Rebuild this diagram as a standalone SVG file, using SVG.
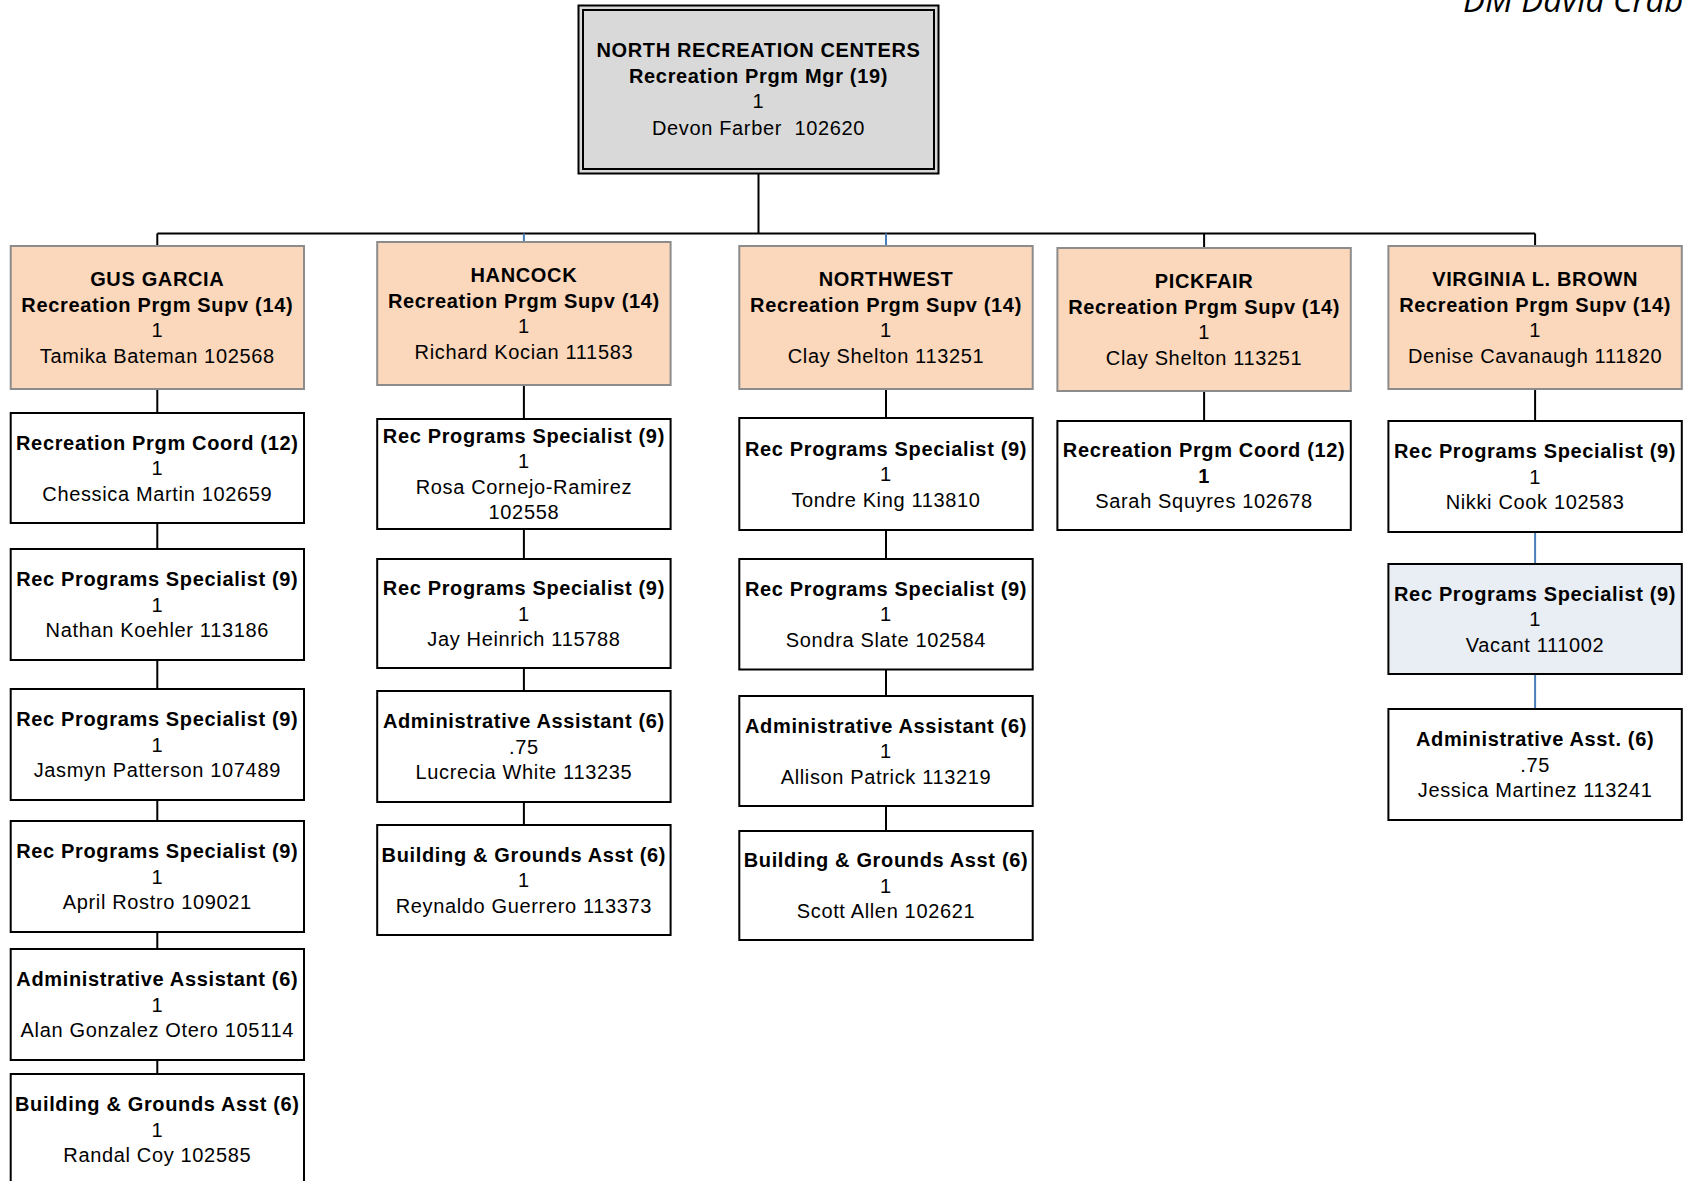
<svg xmlns="http://www.w3.org/2000/svg" width="1685" height="1181" viewBox="0 0 1685 1181">
<style>
.t { font-family: "Liberation Sans", Arial, sans-serif; font-size: 20px; letter-spacing: 0.65px; text-anchor: middle; fill: #000; white-space: pre; }
.b { font-weight: bold; }
.top { fill: #d9d9d9; stroke: #000; stroke-width: 2; }
.l1 { fill: #fbd7bb; stroke: #8c8c8c; stroke-width: 2; }
.ch { fill: #fff; stroke: #000; stroke-width: 2; }
.vac { fill: #e9edf4; stroke: #000; stroke-width: 2; }
.c { stroke: #000; stroke-width: 2; fill: none; }
.cb { stroke: #4a7ebb; stroke-width: 2; fill: none; }
.dm { font-family: "Open Sans", "Liberation Sans", sans-serif; font-style: italic; font-size: 33px; fill: #000; }
</style>
<rect width="1685" height="1181" fill="#fff"/>
<text class="dm" x="1463" y="12">DM David Crab</text>

<g id="connectors">
  <path class="c" d="M758.5 174 V233.5 M157.3 233.5 H1535.1"/>
  <path class="c" d="M157.3 233.5 V246 M1204.1 233.5 V248 M1535.1 233.5 V246"/>
  <path class="cb" d="M523.9 233.5 V242 M886 233.5 V246"/>
  <path class="c" d="M157.3 389 V413 M157.3 523 V549 M157.3 660 V689 M157.3 800 V821 M157.3 932 V949 M157.3 1060 V1074"/>
  <path class="c" d="M523.9 385 V419 M523.9 529 V559 M523.9 668 V691 M523.9 802 V825"/>
  <path class="c" d="M886 389 V418 M886 530 V559 M886 669.5 V696 M886 806 V831"/>
  <path class="c" d="M1204.1 391 V421"/>
  <path class="c" d="M1535.1 389 V421"/>
  <path class="cb" d="M1535.1 532 V564 M1535.1 674 V709"/>
</g>

<g id="north-recreation-centers">
  <rect class="top" x="578.5" y="5.5" width="360" height="168"/>
  <rect class="top" x="583" y="10" width="351" height="159"/>
  <text class="t b" x="758.5" y="57">NORTH RECREATION CENTERS</text>
  <text class="t b" x="758.5" y="83">Recreation Prgm Mgr (19)</text>
  <text class="t" x="758.5" y="108">1</text>
  <text class="t" x="758.5" y="135">Devon Farber  102620</text>
</g>

<g id="gus-garcia">
  <rect class="l1" x="10.7" y="246" width="293.3" height="143"/>
  <text class="t b" x="157.3" y="286">GUS GARCIA</text>
  <text class="t b" x="157.3" y="312">Recreation Prgm Supv (14)</text>
  <text class="t" x="157.3" y="337">1</text>
  <text class="t" x="157.3" y="363">Tamika Bateman 102568</text>
</g>
<g id="gus-coord">
  <rect class="ch" x="10.7" y="413" width="293.3" height="110"/>
  <text class="t b" x="157.3" y="449.5">Recreation Prgm Coord (12)</text>
  <text class="t" x="157.3" y="475">1</text>
  <text class="t" x="157.3" y="500.5">Chessica Martin 102659</text>
</g>
<g id="gus-spec1">
  <rect class="ch" x="10.7" y="549" width="293.3" height="111"/>
  <text class="t b" x="157.3" y="586">Rec Programs Specialist (9)</text>
  <text class="t" x="157.3" y="611.5">1</text>
  <text class="t" x="157.3" y="637">Nathan Koehler 113186</text>
</g>
<g id="gus-spec2">
  <rect class="ch" x="10.7" y="689" width="293.3" height="111"/>
  <text class="t b" x="157.3" y="726">Rec Programs Specialist (9)</text>
  <text class="t" x="157.3" y="751.5">1</text>
  <text class="t" x="157.3" y="777">Jasmyn Patterson 107489</text>
</g>
<g id="gus-spec3">
  <rect class="ch" x="10.7" y="821" width="293.3" height="111"/>
  <text class="t b" x="157.3" y="858">Rec Programs Specialist (9)</text>
  <text class="t" x="157.3" y="883.5">1</text>
  <text class="t" x="157.3" y="909">April Rostro 109021</text>
</g>
<g id="gus-admin">
  <rect class="ch" x="10.7" y="949" width="293.3" height="111"/>
  <text class="t b" x="157.3" y="986">Administrative Assistant (6)</text>
  <text class="t" x="157.3" y="1011.5">1</text>
  <text class="t" x="157.3" y="1037">Alan Gonzalez Otero 105114</text>
</g>
<g id="gus-bldg">
  <rect class="ch" x="10.7" y="1074" width="293.3" height="112"/>
  <text class="t b" x="157.3" y="1111">Building &amp; Grounds Asst (6)</text>
  <text class="t" x="157.3" y="1136.5">1</text>
  <text class="t" x="157.3" y="1162">Randal Coy 102585</text>
</g>

<g id="hancock">
  <rect class="l1" x="377.2" y="242" width="293.4" height="143"/>
  <text class="t b" x="523.9" y="282">HANCOCK</text>
  <text class="t b" x="523.9" y="308">Recreation Prgm Supv (14)</text>
  <text class="t" x="523.9" y="333">1</text>
  <text class="t" x="523.9" y="359">Richard Kocian 111583</text>
</g>
<g id="hancock-spec1">
  <rect class="ch" x="377.2" y="419" width="293.4" height="110"/>
  <text class="t b" x="523.9" y="442.7">Rec Programs Specialist (9)</text>
  <text class="t" x="523.9" y="468.2">1</text>
  <text class="t" x="523.9" y="493.7">Rosa Cornejo-Ramirez</text>
  <text class="t" x="523.9" y="519.2">102558</text>
</g>
<g id="hancock-spec2">
  <rect class="ch" x="377.2" y="559" width="293.4" height="109"/>
  <text class="t b" x="523.9" y="595">Rec Programs Specialist (9)</text>
  <text class="t" x="523.9" y="620.5">1</text>
  <text class="t" x="523.9" y="646">Jay Heinrich 115788</text>
</g>
<g id="hancock-admin">
  <rect class="ch" x="377.2" y="691" width="293.4" height="111"/>
  <text class="t b" x="523.9" y="728">Administrative Assistant (6)</text>
  <text class="t" x="523.9" y="753.5">.75</text>
  <text class="t" x="523.9" y="779">Lucrecia White 113235</text>
</g>
<g id="hancock-bldg">
  <rect class="ch" x="377.2" y="825" width="293.4" height="110"/>
  <text class="t b" x="523.9" y="861.5">Building &amp; Grounds Asst (6)</text>
  <text class="t" x="523.9" y="887">1</text>
  <text class="t" x="523.9" y="912.5">Reynaldo Guerrero 113373</text>
</g>

<g id="northwest">
  <rect class="l1" x="739.3" y="246" width="293.4" height="143"/>
  <text class="t b" x="886" y="286">NORTHWEST</text>
  <text class="t b" x="886" y="312">Recreation Prgm Supv (14)</text>
  <text class="t" x="886" y="337">1</text>
  <text class="t" x="886" y="363">Clay Shelton 113251</text>
</g>
<g id="northwest-spec1">
  <rect class="ch" x="739.3" y="418" width="293.4" height="112"/>
  <text class="t b" x="886" y="455.5">Rec Programs Specialist (9)</text>
  <text class="t" x="886" y="481">1</text>
  <text class="t" x="886" y="506.5">Tondre King 113810</text>
</g>
<g id="northwest-spec2">
  <rect class="ch" x="739.3" y="559" width="293.4" height="110.5"/>
  <text class="t b" x="886" y="595.5">Rec Programs Specialist (9)</text>
  <text class="t" x="886" y="621">1</text>
  <text class="t" x="886" y="646.5">Sondra Slate 102584</text>
</g>
<g id="northwest-admin">
  <rect class="ch" x="739.3" y="696" width="293.4" height="110"/>
  <text class="t b" x="886" y="732.5">Administrative Assistant (6)</text>
  <text class="t" x="886" y="758">1</text>
  <text class="t" x="886" y="783.5">Allison Patrick 113219</text>
</g>
<g id="northwest-bldg">
  <rect class="ch" x="739.3" y="831" width="293.4" height="109"/>
  <text class="t b" x="886" y="867">Building &amp; Grounds Asst (6)</text>
  <text class="t" x="886" y="892.5">1</text>
  <text class="t" x="886" y="918">Scott Allen 102621</text>
</g>

<g id="pickfair">
  <rect class="l1" x="1057.4" y="248" width="293.4" height="143"/>
  <text class="t b" x="1204.1" y="288">PICKFAIR</text>
  <text class="t b" x="1204.1" y="314">Recreation Prgm Supv (14)</text>
  <text class="t" x="1204.1" y="339">1</text>
  <text class="t" x="1204.1" y="365">Clay Shelton 113251</text>
</g>
<g id="pickfair-coord">
  <rect class="ch" x="1057.4" y="421" width="293.4" height="109"/>
  <text class="t b" x="1204.1" y="457">Recreation Prgm Coord (12)</text>
  <text class="t b" x="1204.1" y="482.5">1</text>
  <text class="t" x="1204.1" y="508">Sarah Squyres 102678</text>
</g>

<g id="virginia-l-brown">
  <rect class="l1" x="1388.4" y="246" width="293.4" height="143"/>
  <text class="t b" x="1535.1" y="286">VIRGINIA L. BROWN</text>
  <text class="t b" x="1535.1" y="312">Recreation Prgm Supv (14)</text>
  <text class="t" x="1535.1" y="337">1</text>
  <text class="t" x="1535.1" y="363">Denise Cavanaugh 111820</text>
</g>
<g id="vlb-spec1">
  <rect class="ch" x="1388.4" y="421" width="293.4" height="111"/>
  <text class="t b" x="1535.1" y="458">Rec Programs Specialist (9)</text>
  <text class="t" x="1535.1" y="483.5">1</text>
  <text class="t" x="1535.1" y="509">Nikki Cook 102583</text>
</g>
<g id="vlb-spec2">
  <rect class="vac" x="1388.4" y="564" width="293.4" height="110"/>
  <text class="t b" x="1535.1" y="600.5">Rec Programs Specialist (9)</text>
  <text class="t" x="1535.1" y="626">1</text>
  <text class="t" x="1535.1" y="651.5">Vacant 111002</text>
</g>
<g id="vlb-admin">
  <rect class="ch" x="1388.4" y="709" width="293.4" height="111"/>
  <text class="t b" x="1535.1" y="746">Administrative Asst. (6)</text>
  <text class="t" x="1535.1" y="771.5">.75</text>
  <text class="t" x="1535.1" y="797">Jessica Martinez 113241</text>
</g>
</svg>
